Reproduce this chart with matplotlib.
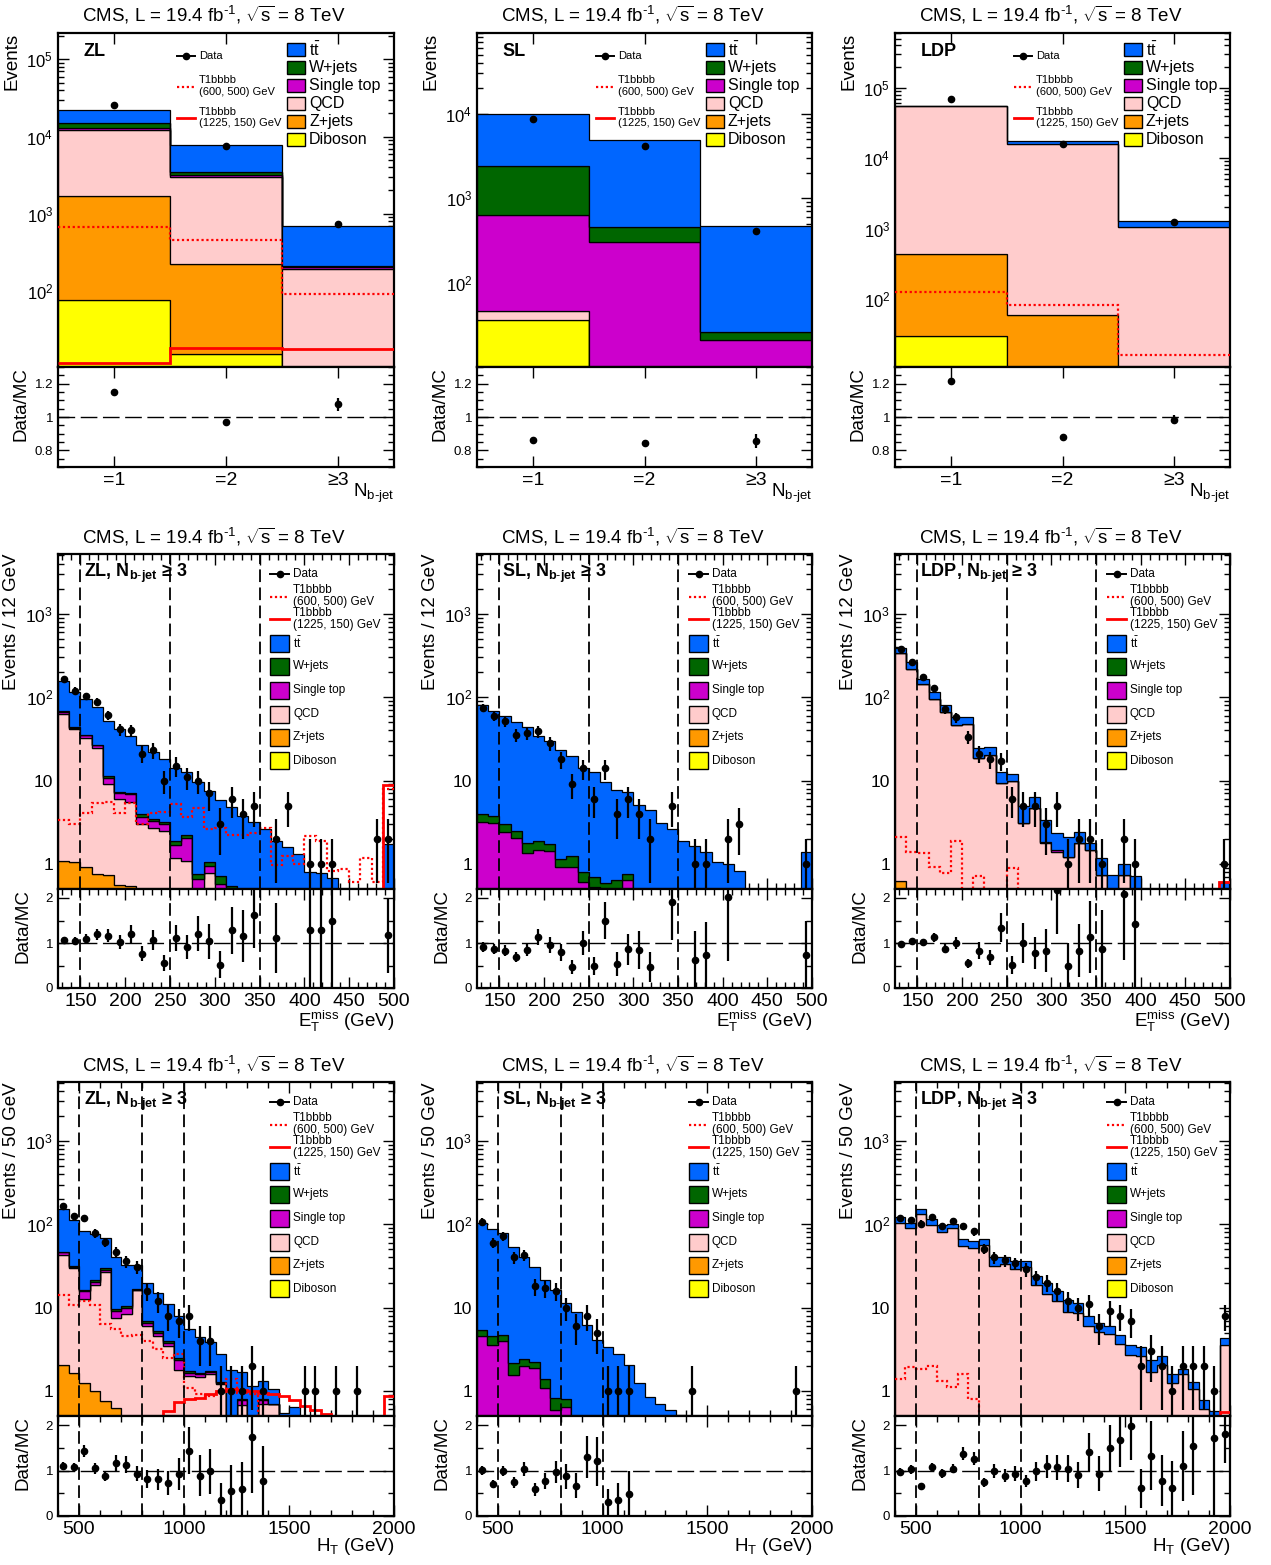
import numpy as np
import matplotlib
matplotlib.use('Agg')
import matplotlib.pyplot as plt
from matplotlib.patches import Rectangle
from matplotlib.ticker import LogLocator, NullFormatter, FuncFormatter, MultipleLocator

plt.rcParams['font.family'] = ['Liberation Sans', 'DejaVu Sans']
plt.rcParams['mathtext.fontset'] = 'custom'
plt.rcParams['mathtext.rm'] = 'Liberation Sans'
plt.rcParams['mathtext.it'] = 'Liberation Sans:italic'
plt.rcParams['mathtext.bf'] = 'Liberation Sans:bold'
plt.rcParams['mathtext.default'] = 'regular'

# colours
C_TT = '#0066ff'
C_WJ = '#006600'
C_ST = '#cc00cc'
C_QCD = '#ffcccc'
C_ZJ = '#ff9900'
C_DIB = '#ffff00'
C_SIG = '#ff0000'

# ---------------- N b-jet (3 categories) ----------------
# stack levels are the cumulative tops
# order bottom->top: diboson, z+jets, qcd, single top, w+jets, ttbar
nb_labels = ['=1', '=2', '≥3']

zl_nb_dib = [75, 15, 5]
zl_nb_zj = [1680, 222, 8]
zl_nb_qcd = [12300, 2960, 191]
zl_nb_st = [12800, 3200, 205]
zl_nb_wj = [14800, 3440, 212]
zl_nb_tt = [22000, 7700, 684]
zl_nb_data = [25300, 7500, 740]
zl_nb_ratio = [1.15, 0.97, 1.076]
zl_nb_sig1 = [665, 450, 90]
zl_nb_sig2 = [11.5, 18.4, 17.4]

sl_nb_dib = [36.6, 0, 0]
sl_nb_qcd = [46, 0, 0]
sl_nb_st = [637, 304, 21]
sl_nb_wj = [2390, 450, 26]
sl_nb_tt = [9900, 4860, 471]
sl_nb_data = [8570, 4130, 407]
sl_nb_ratio = [0.86, 0.846, 0.856]

ldp_nb_dib = [29.7, 0, 0]
ldp_nb_zj = [432, 59, 0]
ldp_nb_qcd = [54700, 16100, 1040]
ldp_nb_tt = [55800, 17800, 1260]
ldp_nb_data = [69700, 15900, 1220]
ldp_nb_ratio = [1.218, 0.882, 0.984]
ldp_nb_sig1 = [124, 83, 15.8]

# ---------------- MET, Nb>=3 (30 bins of 12.5 GeV, 125-500) ----------------
met_edges = np.linspace(125, 500, 31)

zl_met_zj = [1.08, 1.05, 0.91, 0.76, 0.73, 0.56, 0.54, 0, 0, 0,
             0, 0, 0, 0, 0, 0, 0, 0, 0, 0,
             0, 0, 0, 0, 0, 0, 0, 0, 0, 0]
zl_met_qcd = [63, 41, 32.5, 24.7, 9.0, 6.0, 5.6, 3.0, 2.7, 2.45,
              1.18, 1.08, 0, 0.77, 0, 0, 0, 0, 0, 0,
              0, 0, 0, 0, 0, 0, 0, 0, 0, 0]
zl_met_st = [66, 42.5, 34.7, 26.4, 10.8, 7.0, 6.8, 3.7, 3.25, 3.05,
             1.7, 2.05, 0.65, 0.94, 0.57, 0, 0, 0, 0, 0,
             0, 0, 0, 0, 0, 0, 0, 0, 0, 0]
zl_met_wj = [69, 44, 35.6, 27, 11.3, 7.2, 7.0, 4.0, 3.5, 3.2,
             1.87, 2.2, 0.75, 1.05, 0.71, 0.55, 0, 0, 0, 0,
             0, 0, 0, 0, 0, 0, 0, 0, 0, 0]
zl_met_tt = [154, 115, 94, 76, 52, 41, 34, 27, 22, 18,
             14, 12.5, 9.5, 7.5, 5.8, 4.8, 3.8, 3.2, 2.6, 1.9,
             1.6, 1.3, 0.8, 0.77, 0.68, 0, 0, 0, 0, 1.75]
zl_met_data = [163, 120, 103, 88, 61, 41, 40, 21, 23, 10,
               15, 11, 10, 7, 3, 6, 4, 5, 0, 2,
               5, 0, 1, 1, 1, 0, 0, 0, 2, 2]
zl_met_ratio = [1.06, 1.04, 1.10, 1.19, 1.16, 1.02, 1.20, 0.76, 1.06, 0.56,
                1.11, 0.91, 1.21, 1.04, 0.52, 1.28, 1.16, 1.62, None, 1.11,
                None, None, 1.28, 1.30, 1.48, None, None, None, None, 1.17]
zl_met_sig1 = [3.4, 3.0, 4.1, 5.3, 5.6, 4.1, 5.4, 3.0, 4.1, 4.2,
               5.2, 3.7, 4.7, 2.6, 2.7, 2.25, 2.2, 2.35, 2.7, 0.98,
               1.24, 1.0, 2.15, 1.87, 0.82, 0.86, 0.6, 1.18, 0.6, 7.8]
zl_met_sig2 = [0, 0, 0, 0, 0, 0, 0, 0, 0, 0,
               0, 0, 0, 0, 0, 0, 0, 0, 0, 0,
               0, 0, 0, 0, 0, 0, 0, 0, 0, 8.8]

sl_met_st = [3.2, 3.07, 2.38, 2.03, 1.34, 1.47, 1.41, 0.93, 0.93, 0.61,
             0.53, 0.45, 0.5, 0.64, 0, 0, 0, 0, 0, 0,
             0, 0, 0, 0, 0, 0, 0, 0, 0, 0]
sl_met_wj = [4.0, 3.8, 3.0, 2.5, 1.77, 1.89, 1.74, 1.14, 1.25, 0.81,
             0.69, 0.59, 0.64, 0.75, 0, 0, 0, 0, 0, 0,
             0, 0, 0, 0, 0, 0, 0, 0, 0, 0]
sl_met_tt = [80, 69, 60, 50, 43.6, 34.4, 29.4, 22.9, 19.4, 14,
             12.5, 9.5, 7.6, 7.2, 5.1, 4.37, 3.07, 2.65, 1.9, 1.62,
             1.37, 1.05, 1.0, 0.83, 0, 0, 0, 0, 0, 1.37]
sl_met_data = [74, 60, 51, 35, 37, 39, 28, 18, 9, 14,
               6, 14, 4, 6, 4, 2, 0, 5, 0, 1,
               1, 0, 2, 3, 0, 0, 0, 0, 0, 1]
sl_met_ratio = [0.91, 0.86, 0.83, 0.69, 0.85, 1.13, 0.96, 0.79, 0.47, 1.0,
                0.49, 1.5, 0.53, 0.86, 0.84, 0.47, None, 1.91, None, 0.63,
                0.73, None, 2.03, None, None, None, None, None, None, 0.74]

ldp_met_zj = [0.62, 0.52, 0, 0, 0, 0, 0, 0, 0, 0,
              0, 0, 0, 0, 0, 0, 0, 0, 0, 0,
              0, 0, 0, 0, 0, 0, 0, 0, 0, 0]
ldp_met_qcd = [340, 219, 142, 95, 66, 46.6, 47.5, 18.7, 20.3, 9.3,
               10, 3.07, 4.65, 1.77, 1.4, 1.22, 1.77, 1.47, 0.74, 0,
               0.74, 0, 0, 0, 0, 0, 0, 0, 0, 0]
ldp_met_st = [340, 219, 142, 95, 66, 46.6, 47.5, 18.7, 20.3, 9.3,
              10, 3.07, 4.65, 1.85, 1.45, 1.22, 1.77, 1.47, 0.74, 0,
              0.74, 0, 0, 0, 0, 0, 0, 0, 0, 0]
ldp_met_tt = [387, 265, 166, 114, 81, 57, 58, 24.4, 24.9, 12.8,
              12.0, 4.9, 6.4, 3.4, 2.33, 2.13, 2.44, 1.8, 1.17, 0.74,
              0.99, 0.72, 0, 0, 0, 0, 0, 0, 0, 0.6]
ldp_met_data = [380, 260, 172, 128, 72, 57, 33, 21, 18, 17,
                6, 5, 5, 3, 5, 1, 2, 2, 1, 0,
                2, 1, 0, 0, 0, 0, 0, 0, 0, 1]
ldp_met_ratio = [0.98, 1.04, 1.02, 1.13, 0.87, 1.0, 0.55, 0.83, 0.68, 1.34,
                 0.51, 1.0, 0.78, 0.83, 2.18, 0.5, 0.83, 1.13, 0.87, None,
                 2.09, 1.42, None, None, None, None, None, None, None, None]
ldp_met_sig1 = [2.1, 1.4, 1.35, 0.92, 0.78, 1.9, 0.4, 0.72, 0.4, 0.4,
                0.9, 0, 0, 0, 0, 0, 0, 0, 0, 0,
                0, 0, 0, 0, 0, 0, 0, 0, 0, 0]
ldp_met_sig2 = [0, 0, 0, 0, 0, 0, 0, 0, 0, 0,
                0, 0, 0, 0, 0, 0, 0, 0, 0, 0,
                0, 0, 0, 0, 0, 0, 0, 0, 0, 0.6]

# ---------------- HT, Nb>=3 (32 bins of 50 GeV, 400-2000) ----------------
ht_edges = np.linspace(400, 2000, 33)

zl_ht_zj = [2.03, 1.66, 1.26, 1.0, 0.76, 0.63, 0, 0, 0, 0,
            0, 0, 0, 0, 0, 0, 0, 0, 0, 0,
            0, 0, 0, 0, 0, 0, 0, 0, 0, 0,
            0, 0]
zl_ht_qcd = [43, 29.8, 12.7, 18.8, 26.4, 7.5, 8.4, 16.1, 6.0, 4.5,
             3.5, 1.78, 1.51, 1.47, 1.58, 1.2, 0, 0.67, 0, 0.7,
             0.69, 0, 0, 0, 0, 0, 0, 0, 0, 0,
             0, 0]
zl_ht_st = [46, 31, 15.7, 20.2, 28.5, 9.0, 9.9, 16.4, 6.6, 5.0,
            3.8, 2.35, 1.66, 1.58, 1.69, 1.26, 0, 0.78, 0, 0.77,
            0.7, 0, 0, 0, 0, 0, 0, 0, 0, 0,
            0, 0]
zl_ht_wj = [47, 32, 16.4, 21.2, 29.8, 9.5, 10.4, 16.8, 6.9, 5.2,
            3.96, 2.45, 1.73, 1.66, 1.73, 1.28, 0, 0.8, 0, 0.79,
            0.7, 0, 0, 0, 0, 0, 0, 0, 0, 0,
            0, 0]
zl_ht_tt = [151, 114, 83, 76, 69, 40, 32.7, 32.5, 19.7, 15.1,
            10.9, 8.0, 5.56, 4.4, 3.9, 2.74, 1.78, 1.69, 1.15, 1.3,
            1.05, 0.55, 0.64, 0, 0, 0, 0, 0, 0, 0,
            0, 0]
zl_ht_data = [167, 124, 118, 78, 61, 46, 36, 31, 16, 12,
              8, 7, 8, 4, 4, 1, 1, 1, 2, 1,
              0, 0, 0, 1, 1, 0, 1, 0, 1, 0,
              0, 0]
zl_ht_ratio = [1.11, 1.07, 1.44, 1.05, 0.88, 1.16, 1.13, 0.93, 0.81, 0.81,
               0.73, 0.93, 1.44, 0.89, 0.98, 0.36, 0.56, 0.59, 1.74, 0.77,
               None, None, None, None, None, None, None, None, None, None,
               None, None]
zl_ht_sig1 = [14.3, 10.6, 11.9, 10.8, 6.4, 5.5, 4.6, 4.75, 3.96, 3.15,
              2.5, 2.74, 1.07, 0.91, 0.87, 1.0, 1.38, 0.95, 0.91, 0,
              0, 0, 0, 0, 0, 0, 0, 0, 0, 0,
              0, 0]
zl_ht_sig2 = [0, 0, 0, 0, 0, 0, 0, 0, 0, 0,
              0.58, 0.73, 0.8, 0.83, 0.91, 1.0, 1.05, 1.03, 1.0, 0.95,
              0.91, 0.87, 0.78, 0.66, 0.59, 0.53, 0.45, 0.45, 0.45, 0.45,
              0.45, 0.87]

sl_ht_st = [4.57, 3.6, 3.94, 1.54, 1.98, 1.9, 1.07, 0.59, 0.65, 0,
            0, 0, 0, 0, 0, 0, 0, 0, 0, 0,
            0, 0, 0, 0, 0, 0, 0, 0, 0, 0,
            0, 0]
sl_ht_wj = [5.4, 4.5, 4.65, 2.17, 2.44, 2.23, 1.38, 0.82, 0.79, 0,
            0, 0, 0, 0, 0, 0, 0, 0, 0, 0,
            0, 0, 0, 0, 0, 0, 0, 0, 0, 0,
            0, 0]
sl_ht_tt = [104, 88, 78, 54, 40.5, 30.8, 21.7, 16.4, 11.5, 8.9,
            6.1, 4.1, 3.4, 2.8, 2.03, 1.25, 0.85, 0.7, 0.59, 0.52,
            0, 0, 0, 0, 0, 0, 0, 0, 0, 0,
            0, 0]
sl_ht_data = [107, 60, 72, 40, 43, 18, 17, 16, 10, 6,
              8, 5, 1, 1, 1, 0, 0, 0, 0, 0,
              1, 0, 0, 0, 0, 0, 0, 0, 0, 0,
              1, 0]
sl_ht_ratio = [1.01, 0.70, 0.99, 0.74, 1.04, 0.59, 0.77, 0.96, 0.87, 0.67,
               1.30, 1.20, 0.30, 0.36, 0.49, None, None, None, None, None,
               None, None, None, None, None, None, None, None, None, None,
               None, None]

ldp_ht_qcd = [104, 90, 132, 97, 81, 89, 55, 52.5, 56, 31.3,
              33, 29, 30.6, 18.9, 14.7, 11.9, 8.9, 8.7, 6.0, 5.1,
              4.8, 3.7, 2.68, 2.6, 1.69, 2.03, 1.25, 1.61, 1.04, 0.6,
              0.4, 3.53]
ldp_ht_tt = [122, 104, 151, 115, 97, 101, 66, 62.5, 66, 40.5,
             41, 36, 36.5, 24, 20, 16, 12.5, 11.5, 7.9, 6.5,
             6.0, 4.66, 3.6, 3.37, 2.33, 2.6, 1.61, 1.85, 1.28, 0.77,
             0.58, 4.37]
ldp_ht_data = [120, 112, 102, 122, 95, 109, 95, 82, 51, 40,
               37, 34, 29, 23, 20, 16, 12, 10, 11, 6,
               9, 8, 7, 2, 3, 2, 1, 2, 2, 2,
               1, 8]
ldp_ht_ratio = [0.96, 1.03, 0.67, 1.07, 0.94, 1.04, 1.37, 1.26, 0.74, 0.98,
                0.89, 0.93, 0.77, 0.98, 1.09, 1.07, 1.04, 0.90, 1.40, 0.93,
                1.50, 1.68, 1.98, 0.61, 1.33, 0.78, 0.61, 1.09, 1.55, None,
                1.72, 1.81]
ldp_ht_sig1 = [1.4, 1.94, 1.85, 1.98, 1.3, 1.12, 1.61, 0.79, 0, 0,
               0, 0, 0, 0, 0, 0, 0, 0, 0, 0,
               0, 0, 0, 0, 0, 0, 0, 0, 0, 0,
               0, 0]
ldp_ht_sig2 = [0, 0, 0, 0, 0, 0, 0, 0, 0, 0,
               0, 0, 0, 0, 0, 0, 0, 0, 0, 0,
               0, 0, 0, 0, 0, 0, 0, 0, 0, 0,
               0, 0.56]

# ---------------- layout ----------------
W, H = 1271, 1565
fig = plt.figure(figsize=(W / 100, H / 100), dpi=100)

COLS = [(58, 394), (477, 812), (895, 1230)]
ROWS = [(33, 367, 467), (554, 889, 988), (1082, 1416, 1516)]
TITLE_Y = [15, 537, 1065]
TITLE = r'CMS, L = 19.4 fb$^{\text{-}1}$, $\sqrt{s}$ = 8 TeV'
FLOOR = 1e-3


def add_axes(x0, y0, x1, y1):
    return fig.add_axes([x0 / W, 1 - y1 / H, (x1 - x0) / W, (y1 - y0) / H])


def log_label(v, pos):
    e = int(round(np.log10(v)))
    if e == 0:
        return '1'
    if e == 1:
        return '10'
    return r'$10^{%d}$' % e


def frame(ax):
    for s in ax.spines.values():
        s.set_linewidth(1.6)
    ax.tick_params(which='both', direction='in', top=True, right=True, width=1.0)
    ax.tick_params(which='major', length=8)
    ax.tick_params(which='minor', length=4.5)


def draw_stack(ax, edges, layers):
    below = np.full(len(edges) - 1, FLOOR)
    for lev, col in layers:
        if lev is None:
            continue
        top = np.maximum(np.asarray(lev, float), below)
        ax.stairs(top, edges, baseline=below, fill=True, facecolor=col,
                  edgecolor='black', linewidth=0.9, zorder=2)
        below = top


def draw_signals(ax, edges, sig1, sig2):
    if sig1 is not None:
        ax.stairs(np.maximum(np.asarray(sig1, float), FLOOR), edges, baseline=None,
                  edgecolor=C_SIG, linewidth=1.6, linestyle=(0, (1, 1.2)), zorder=3)
    if sig2 is not None:
        ax.stairs(np.maximum(np.asarray(sig2, float), FLOOR), edges, baseline=None,
                  edgecolor=C_SIG, linewidth=2.0, zorder=3)


def draw_data(ax, x, n):
    n = np.asarray(n, float)
    m = n > 0
    err = np.sqrt(n[m])
    lo = np.minimum(err, n[m] - FLOOR)
    ax.errorbar(x[m], n[m], yerr=[lo, err], fmt='o', color='black', ms=4.5,
                lw=1.6, capsize=0, zorder=6)


def draw_ratio(rx, x, r, n):
    r = np.array(r, dtype=float)
    n = np.asarray(n, float)
    m = ~np.isnan(r)
    err = r[m] / np.sqrt(n[m])
    rx.errorbar(x[m], r[m], yerr=err, fmt='o', color='black', ms=4.5,
                lw=1.6, capsize=0, zorder=6)
    rx.axhline(1, color='black', lw=1.0, dashes=(12, 4), zorder=3)


def legend_nb(ax):
    bb = ax.get_position()
    pw, ph = bb.width * W, bb.height * H
    fx = lambda d: d / pw
    fy = lambda d: 1 - d / ph
    kw = dict(transform=ax.transAxes, clip_on=False, zorder=8)
    ax.plot([fx(119), fx(137)], [fy(23), fy(23)], color='black', lw=1.4, **kw)
    ax.plot([fx(128)], [fy(23)], 'o', color='black', ms=4.5, **kw)
    ax.text(fx(141), fy(23), 'Data', fontsize=8, va='center', transform=ax.transAxes)
    ax.plot([fx(119), fx(137)], [fy(54), fy(54)], color=C_SIG, lw=1.6,
            linestyle=(0, (1, 1.2)), **kw)
    ax.text(fx(141), fy(47), 'T1bbbb', fontsize=8, va='center', transform=ax.transAxes)
    ax.text(fx(141), fy(59), '(600, 500) GeV', fontsize=8, va='center', transform=ax.transAxes)
    ax.plot([fx(119), fx(137)], [fy(85), fy(85)], color=C_SIG, lw=2.0, **kw)
    ax.text(fx(141), fy(79), 'T1bbbb', fontsize=8, va='center', transform=ax.transAxes)
    ax.text(fx(141), fy(90), '(1225, 150) GeV', fontsize=8, va='center', transform=ax.transAxes)
    names = [r't$\bar{t}$', 'W+jets', 'Single top', 'QCD', 'Z+jets', 'Diboson']
    cols = [C_TT, C_WJ, C_ST, C_QCD, C_ZJ, C_DIB]
    ys = [16.5, 34, 52.5, 70.5, 88.5, 106.5]
    for name, col, y in zip(names, cols, ys):
        ax.add_patch(Rectangle((fx(229), fy(y + 6.5)), fx(18), 13 / ph, facecolor=col,
                               edgecolor='black', lw=1.0, transform=ax.transAxes,
                               clip_on=False, zorder=8))
        ax.text(fx(251), fy(y), name, fontsize=11.5, va='center', transform=ax.transAxes)


def legend_dist(ax):
    bb = ax.get_position()
    pw, ph = bb.width * W, bb.height * H
    fx = lambda d: d / pw
    fy = lambda d: 1 - d / ph
    kw = dict(transform=ax.transAxes, clip_on=False, zorder=8)
    fs = 8.5
    ax.plot([fx(212), fx(231)], [fy(20), fy(20)], color='black', lw=1.4, **kw)
    ax.plot([fx(221.5)], [fy(20)], 'o', color='black', ms=4.5, **kw)
    ax.text(fx(235), fy(20), 'Data', fontsize=fs, va='center', transform=ax.transAxes)
    ax.plot([fx(212), fx(231)], [fy(43), fy(43)], color=C_SIG, lw=1.6,
            linestyle=(0, (1, 1.2)), **kw)
    ax.text(fx(235), fy(36), 'T1bbbb', fontsize=fs, va='center', transform=ax.transAxes)
    ax.text(fx(235), fy(47.5), '(600, 500) GeV', fontsize=fs, va='center', transform=ax.transAxes)
    ax.plot([fx(212), fx(231)], [fy(65), fy(65)], color=C_SIG, lw=2.0, **kw)
    ax.text(fx(235), fy(59.5), 'T1bbbb', fontsize=fs, va='center', transform=ax.transAxes)
    ax.text(fx(235), fy(71), '(1225, 150) GeV', fontsize=fs, va='center', transform=ax.transAxes)
    names = [r't$\bar{t}$', 'W+jets', 'Single top', 'QCD', 'Z+jets', 'Diboson']
    cols = [C_TT, C_WJ, C_ST, C_QCD, C_ZJ, C_DIB]
    ys = [89.5, 112, 136, 160, 183, 206.5]
    for name, col, y in zip(names, cols, ys):
        ax.add_patch(Rectangle((fx(212), fy(y + 8.5)), fx(19), 17 / ph, facecolor=col,
                               edgecolor='black', lw=1.0, transform=ax.transAxes,
                               clip_on=False, zorder=8))
        ax.text(fx(235), fy(y), name, fontsize=fs, va='center', transform=ax.transAxes)


def main_log_axis(ax, ylim, fs):
    ax.set_yscale('log')
    ax.set_ylim(*ylim)
    ax.yaxis.set_major_locator(LogLocator(base=10, numticks=20))
    ax.yaxis.set_minor_locator(LogLocator(base=10, subs=np.arange(2, 10), numticks=20))
    ax.yaxis.set_minor_formatter(NullFormatter())
    ax.yaxis.set_major_formatter(FuncFormatter(log_label))
    ax.tick_params(axis='y', labelsize=fs)


def title(col, row):
    x0, x1 = COLS[col]
    fig.text((0.5 * (x0 + x1) - 12) / W, 1 - TITLE_Y[row] / H, TITLE,
             fontsize=13.5, ha='center', va='center')


# ---------------- row 1 : N b-jet ----------------
nb_edges = np.array([0.5, 1.5, 2.5, 3.5])
nb_x = np.array([1, 2, 3])
nb_panels = [
    ('ZL', [(zl_nb_dib, C_DIB), (zl_nb_zj, C_ZJ), (zl_nb_qcd, C_QCD), (zl_nb_st, C_ST),
            (zl_nb_wj, C_WJ), (zl_nb_tt, C_TT)], zl_nb_data, zl_nb_ratio,
     zl_nb_sig1, zl_nb_sig2, (10.3, 2.2e5)),
    ('SL', [(sl_nb_dib, C_DIB), (sl_nb_qcd, C_QCD), (sl_nb_st, C_ST),
            (sl_nb_wj, C_WJ), (sl_nb_tt, C_TT)], sl_nb_data, sl_nb_ratio,
     None, None, (10.05, 9e4)),
    ('LDP', [(ldp_nb_dib, C_DIB), (ldp_nb_zj, C_ZJ), (ldp_nb_qcd, C_QCD),
             (ldp_nb_tt, C_TT)], ldp_nb_data, ldp_nb_ratio,
     ldp_nb_sig1, None, (10.8, 6e5)),
]
for col, (lab, layers, data, ratio, s1, s2, ylim) in enumerate(nb_panels):
    x0, x1 = COLS[col]
    t, m, b = ROWS[0]
    ax = add_axes(x0, t, x1, m)
    rx = add_axes(x0, m, x1, b)
    draw_stack(ax, nb_edges, layers)
    draw_signals(ax, nb_edges, s1, s2)
    draw_data(ax, nb_x, data)
    draw_ratio(rx, nb_x, ratio, data)
    for a in (ax, rx):
        a.set_xlim(0.5, 3.5)
        a.set_xticks(nb_x)
        frame(a)
    ax.set_xticklabels([])
    rx.set_xticklabels(nb_labels, fontsize=14)
    main_log_axis(ax, ylim, 12)
    rx.set_ylim(0.7, 1.3)
    rx.set_yticks([0.8, 1.0, 1.2])
    rx.set_yticklabels(['0.8', '1', '1.2'])
    rx.yaxis.set_minor_locator(MultipleLocator(0.05))
    rx.tick_params(axis='y', labelsize=9.5)
    ax.set_ylabel('Events', loc='top', fontsize=13.5, labelpad=4)
    rx.set_ylabel('Data/MC', loc='top', fontsize=13.5, labelpad=4)
    rx.set_xlabel(r'N$_{b\text{-}jet}$', loc='right', fontsize=13.5, labelpad=-5)
    ax.text(0.076, 0.946, lab, transform=ax.transAxes, fontsize=13, fontweight='bold',
            va='center', ha='left', zorder=9)
    legend_nb(ax)
    title(col, 0)

# ---------------- rows 2 and 3 : MET and HT ----------------
met_panels = [
    ('ZL', [(zl_met_zj, C_ZJ), (zl_met_qcd, C_QCD), (zl_met_st, C_ST), (zl_met_wj, C_WJ),
            (zl_met_tt, C_TT)], zl_met_data, zl_met_ratio, zl_met_sig1, zl_met_sig2),
    ('SL', [(sl_met_st, C_ST), (sl_met_wj, C_WJ), (sl_met_tt, C_TT)],
     sl_met_data, sl_met_ratio, None, None),
    ('LDP', [(ldp_met_zj, C_ZJ), (ldp_met_qcd, C_QCD), (ldp_met_st, C_ST), (ldp_met_tt, C_TT)],
     ldp_met_data, ldp_met_ratio, ldp_met_sig1, ldp_met_sig2),
]
ht_panels = [
    ('ZL', [(zl_ht_zj, C_ZJ), (zl_ht_qcd, C_QCD), (zl_ht_st, C_ST), (zl_ht_wj, C_WJ),
            (zl_ht_tt, C_TT)], zl_ht_data, zl_ht_ratio, zl_ht_sig1, zl_ht_sig2),
    ('SL', [(sl_ht_st, C_ST), (sl_ht_wj, C_WJ), (sl_ht_tt, C_TT)],
     sl_ht_data, sl_ht_ratio, None, None),
    ('LDP', [(ldp_ht_qcd, C_QCD), (ldp_ht_tt, C_TT)],
     ldp_ht_data, ldp_ht_ratio, ldp_ht_sig1, ldp_ht_sig2),
]

row_setup = [
    (1, met_panels, met_edges, (125, 500), 50, 10, [150, 250, 350], (0.5, 5200),
     'Events / 12 GeV', r'E$_{T}^{miss}$ (GeV)'),
    (2, ht_panels, ht_edges, (400, 2000), 500, 100, [500, 800, 1000], (0.5, 5100),
     'Events / 50 GeV', r'H$_{T}$ (GeV)'),
]

for row, panels, edges, xlim, major, minor, cuts, ylim, ylab, xlab in row_setup:
    centers = 0.5 * (edges[1:] + edges[:-1])
    for col, (lab, layers, data, ratio, s1, s2) in enumerate(panels):
        x0, x1 = COLS[col]
        t, m, b = ROWS[row]
        ax = add_axes(x0, t, x1, m)
        rx = add_axes(x0, m, x1, b)
        draw_stack(ax, edges, layers)
        draw_signals(ax, edges, s1, s2)
        draw_data(ax, centers, data)
        draw_ratio(rx, centers, ratio, data)
        for a in (ax, rx):
            a.set_xlim(*xlim)
            a.xaxis.set_major_locator(MultipleLocator(major))
            a.xaxis.set_minor_locator(MultipleLocator(minor))
            for c in cuts:
                a.axvline(c, color='black', lw=1.3, dashes=(7, 3), zorder=4)
            frame(a)
        ax.set_xticklabels([])
        rx.tick_params(axis='x', labelsize=14)
        main_log_axis(ax, ylim, 12.5)
        rx.set_ylim(0, 2.2)
        rx.set_yticks([0, 1, 2])
        rx.set_yticklabels(['0', '1', '2'])
        rx.yaxis.set_minor_locator(MultipleLocator(0.5))
        rx.tick_params(axis='y', labelsize=9.5)
        ax.set_ylabel(ylab, loc='top', fontsize=13.5, labelpad=4)
        rx.set_ylabel('Data/MC', loc='top', fontsize=13.5, labelpad=10)
        rx.set_xlabel(xlab, loc='right', fontsize=13.5, labelpad=-1)
        ax.text(0.076, 0.943, lab + r', N$_{b\text{-}jet}$ ≥ 3', transform=ax.transAxes,
                fontsize=13, fontweight='bold', va='center', ha='left', zorder=9)
        legend_dist(ax)
        title(col, row)

fig.savefig('out.png', dpi=100)
